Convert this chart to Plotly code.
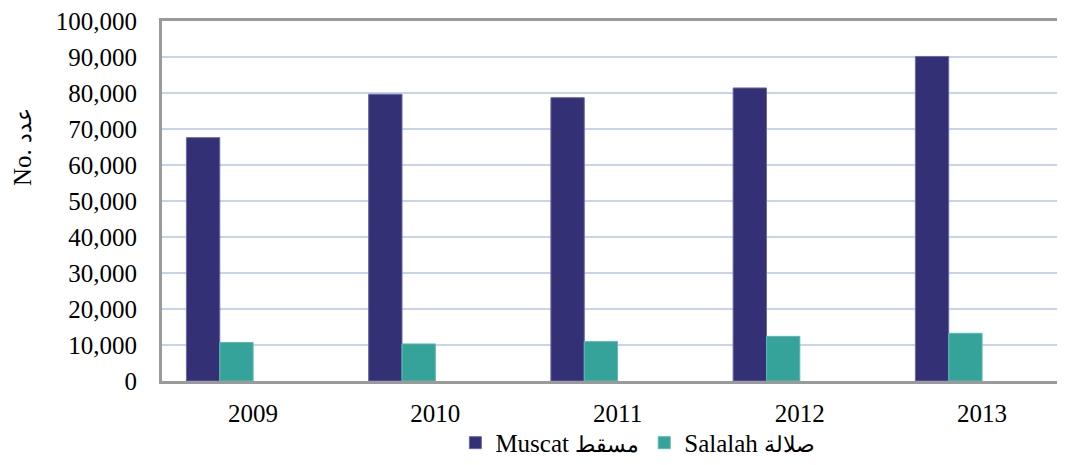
import plotly.graph_objects as go

years = ['2009', '2010', '2011', '2012', '2013']
muscat = [67600, 79650, 78700, 81400, 90150]
salalah = [10700, 10300, 10950, 12400, 13250]

ar = '<span style="font-size:22px">%s</span>'
muscat_name = 'Muscat ' + ar % 'مسقط'
salalah_name = 'Salalah ' + ar % 'صلالة'
y_title = 'No. ' + ar % 'عدد'

font_family = 'Liberation Serif, Times New Roman, serif'
font_size = 25
muscat_color = '#333075'
salalah_color = '#36a39b'
axis_color = '#9a9a9a'
grid_color = '#c9d4ea'

bar_w = 0.183

fig = go.Figure()
fig.add_trace(go.Bar(
    x=years, y=muscat, name=muscat_name,
    marker=dict(color=muscat_color, line=dict(color='#6a68a8', width=1)),
    width=bar_w, offset=-2 * bar_w,
))
fig.add_trace(go.Bar(
    x=years, y=salalah, name=salalah_name,
    marker=dict(color=salalah_color, line=dict(color='#5cbab2', width=1)),
    width=bar_w, offset=-bar_w,
))

fig.update_xaxes(
    range=[-0.5, 4.455],
    showline=True, linecolor=axis_color, linewidth=3,
    mirror=True,
    showgrid=False,
    ticks='', ticklabelstandoff=8,
    tickfont=dict(size=font_size, color='#000000', family=font_family),
)
fig.update_yaxes(
    range=[0, 100000],
    dtick=10000,
    tickformat=',d',
    showline=True, linecolor=axis_color, linewidth=3,
    showgrid=True, gridcolor=grid_color, gridwidth=2,
    zeroline=False,
    ticks='', ticklabelstandoff=17,
    ticklabeloverflow='allow',
    tickfont=dict(size=font_size, color='#000000', family=font_family),
)

fig.add_annotation(
    text=y_title, textangle=-90,
    xref='paper', yref='paper',
    x=(22 - 162) / 903, y=0.65,
    xanchor='center', yanchor='middle',
    showarrow=False,
    font=dict(size=font_size, color='#000000', family=font_family),
)

# the page body adds 8px around the figure
fig.update_layout(
    width=1057,
    height=449,
    font=dict(family=font_family, color='#000000', size=font_size),
    plot_bgcolor='white',
    paper_bgcolor='white',
    showlegend=True,
    legend=dict(
        orientation='h',
        x=0.527, xanchor='center',
        y=-0.172, yanchor='middle',
        bgcolor='rgba(0,0,0,0)',
        font=dict(size=font_size, family=font_family),
        itemwidth=30,
    ),
    margin=dict(l=154, r=0, t=13, b=76, autoexpand=False),
)

fig.write_html("out.html")
